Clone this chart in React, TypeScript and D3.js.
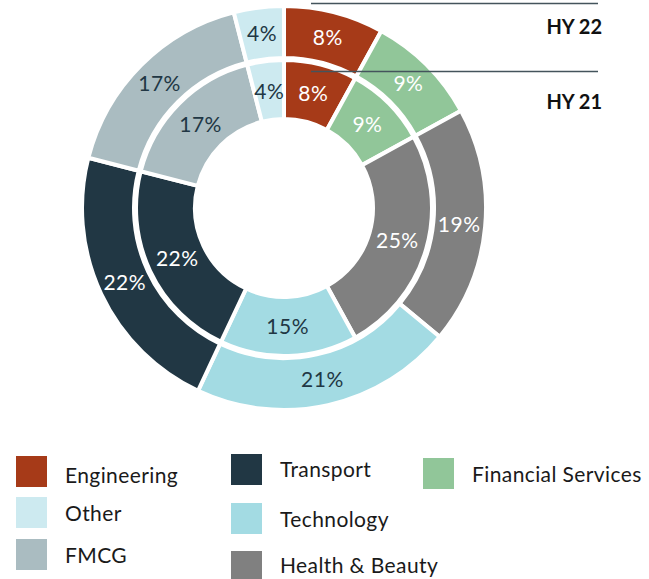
import React from "react";
import { pie, arc, scaleOrdinal } from "d3";

// sectors, clockwise from 12 o'clock
const categories = [
  "Engineering",
  "Financial Services",
  "Health & Beauty",
  "Technology",
  "Transport",
  "FMCG",
  "Other",
];
const hy22 = [8, 9, 19, 21, 22, 17, 4];
const hy21 = [8, 9, 25, 15, 22, 17, 4];
const ringLabels = ["HY 22", "HY 21"];

const palette = ["#a63a18", "#91c699", "#808080", "#a3dbe3", "#213744", "#aabcc1", "#cdeaf0"];
const darkText = ["Technology", "FMCG", "Other"];

// legend columns as they read in the picture
const legendColumns = [
  ["Engineering", "Other", "FMCG"],
  ["Transport", "Technology", "Health & Beauty"],
  ["Financial Services"],
];

const W = 649;
const H = 579;
const cx = 284;
const cy = 208;
const FONT = "Lato, 'Open Sans', sans-serif";

const color = scaleOrdinal<string, string>().domain(categories).range(palette);

const pieGen = pie<number>().sort(null).value((d) => d);

const outerArc = arc<any>().innerRadius(150).outerRadius(202);
const innerArc = arc<any>().innerRadius(89).outerRadius(148);
const outerLabel = arc<any>().innerRadius(176).outerRadius(176);
const innerLabel = arc<any>().innerRadius(118).outerRadius(118);

function Ring({ values, shape, labelArc }: { values: number[]; shape: any; labelArc: any }) {
  const slices = pieGen(values);
  return (
    <g>
      {slices.map((s, i) => (
        <path key={"p" + i} d={shape(s)} fill={color(categories[i])} stroke="#fff" strokeWidth={4} />
      ))}
      {slices.map((s, i) => {
        const [x, y] = labelArc.centroid(s);
        return (
          <text
            key={"t" + i}
            x={x}
            y={y}
            dy="0.36em"
            textAnchor="middle"
            fontSize={21}
            letterSpacing={0.5}
            fill={darkText.includes(categories[i]) ? "#213744" : "#ffffff"}
          >
            {values[i]}%
          </text>
        );
      })}
    </g>
  );
}

export default function App() {
  const colX = [16, 231, 423];
  const rowY = [
    [456, 497, 539],
    [454, 503, 551],
    [458],
  ];
  const baseY = [
    [483, 521, 563],
    [477, 527, 573],
    [482],
  ];
  return (
    <svg
      width={W}
      height={H}
      style={{ position: "absolute", left: 0, top: 0, background: "#fff" }}
      fontFamily={FONT}
    >
      <g transform={`translate(${cx},${cy})`}>
        <Ring values={hy22} shape={outerArc} labelArc={outerLabel} />
        <Ring values={hy21} shape={innerArc} labelArc={innerLabel} />
      </g>

      {/* ring captions */}
      {ringLabels.map((lab, i) => {
        const ly = i === 0 ? 3.5 : 71.5;
        return (
          <g key={lab}>
            <line x1={311} x2={598} y1={ly} y2={ly} stroke="#44545c" strokeWidth={1.3} />
            <text
              x={602}
              y={i === 0 ? 34 : 109}
              textAnchor="end"
              fontSize={20}
              fontWeight={700}
              fill="#111"
            >
              {lab}
            </text>
          </g>
        );
      })}

      {/* legend */}
      {legendColumns.map((col, ci) =>
        col.map((name, ri) => (
          <g key={name}>
            <rect x={colX[ci]} y={rowY[ci][ri]} width={31} height={31} fill={color(name)} />
            <text
              x={colX[ci] + 49}
              y={baseY[ci][ri]}
              fontSize={21}
              letterSpacing={0.4}
              fill="#1a1a1a"
            >
              {name}
            </text>
          </g>
        ))
      )}
    </svg>
  );
}
